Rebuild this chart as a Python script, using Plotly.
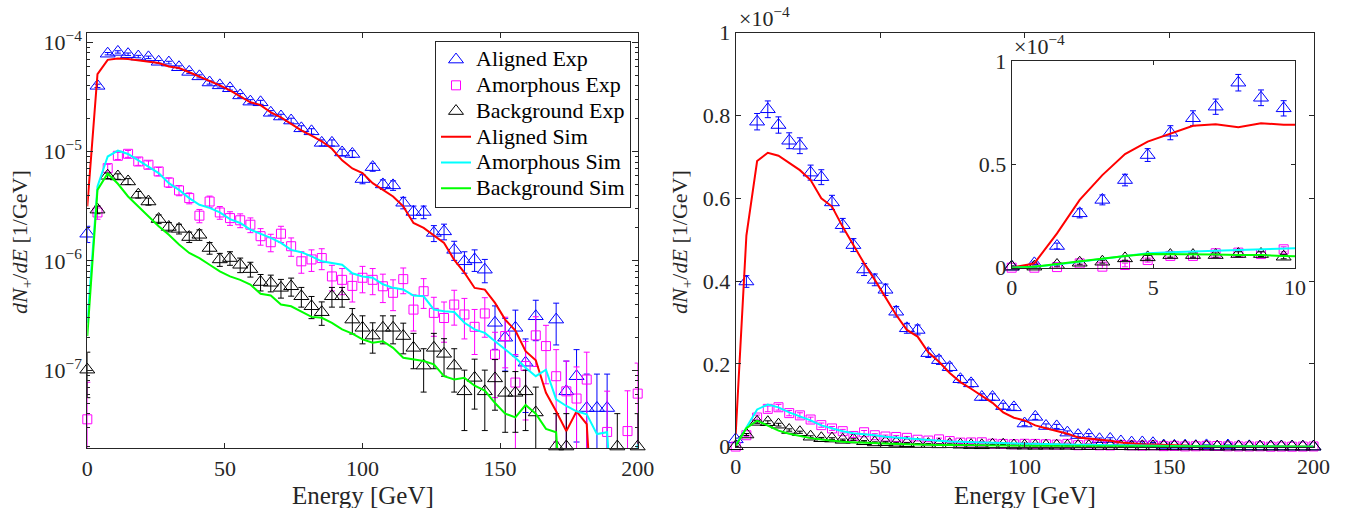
import plotly.graph_objects as go

FONT = "Liberation Serif, DejaVu Serif, serif"
AX = "#262626"
W, H = 1353, 508

# ---------------- data (main panels, absolute units 1/GeV) ----------------
energy = [0, 3.70, 7.41, 11.11, 14.81, 18.52, 22.22, 25.93, 29.63, 33.33,
          37.04, 40.74, 44.44, 48.15, 51.85, 55.56, 59.26, 62.96, 66.67, 70.37,
          74.07, 77.78, 81.48, 85.19, 88.89, 92.59, 96.30, 100.0, 103.70, 107.41,
          111.11, 114.81, 118.52, 122.22, 125.93, 129.63, 133.33, 137.04, 140.74, 144.44,
          148.15, 151.85, 155.56, 159.26, 162.96, 166.67, 170.37, 174.07, 177.78, 181.48,
          185.19, 188.89, 192.59, 196.30, 200.0]

aligned_exp = [1.77e-6, 3.99e-5, 7.85e-5, 8.15e-5, 7.77e-5, 7.39e-5, 7.27e-5, 6.62e-5, 6.51e-5, 5.90e-5,
               5.35e-5, 4.87e-5, 4.28e-5, 4.03e-5, 3.79e-5, 3.26e-5, 2.86e-5, 2.82e-5, 2.26e-5, 2.09e-5,
               1.92e-5, 1.63e-5, 1.53e-5, 1.20e-5, 1.20e-5, 9.8e-6, 9.5e-6, 5.6e-6, 7.2e-6, 5.0e-6,
               4.9e-6, 3.4e-6, 2.8e-6, 2.8e-6, 1.80e-6, 1.86e-6, 1.26e-6, 9.9e-7, 1.03e-6, 8.3e-7,
               2.71e-7, 1.98e-7, 2.44e-7, 1.17e-7, 3.11e-7, 0, 2.90e-7, 6.4e-8, 8.8e-8, 4.5e-8,
               4.5e-8, 4.5e-8, 0, 0, 0]
aligned_err = [3.0e-7, 1.41e-6, 1.98e-6, 2.02e-6, 1.97e-6, 1.92e-6, 1.91e-6, 1.82e-6, 1.80e-6, 1.72e-6,
               1.64e-6, 1.56e-6, 1.46e-6, 1.42e-6, 1.38e-6, 1.28e-6, 1.20e-6, 1.19e-6, 1.06e-6, 1.02e-6,
               9.8e-7, 9.0e-7, 8.7e-7, 7.7e-7, 7.7e-7, 7.0e-7, 6.9e-7, 5.3e-7, 6.0e-7, 5.0e-7,
               4.9e-7, 4.1e-7, 3.7e-7, 3.7e-7, 3.0e-7, 3.05e-7, 2.5e-7, 2.2e-7, 2.3e-7, 2.0e-7,
               1.16e-7, 1.0e-7, 1.1e-7, 7.6e-8, 1.25e-7, 0, 1.2e-7, 5.7e-8, 6.6e-8, 4.7e-8,
               4.7e-8, 4.7e-8, 0, 0, 0]

amorph_exp = [3.55e-8, 2.77e-6, 7.05e-6, 9.14e-6, 9.53e-6, 8.11e-6, 7.57e-6, 6.57e-6, 5.21e-6, 4.41e-6,
              3.75e-6, 2.59e-6, 3.49e-6, 2.77e-6, 2.46e-6, 2.35e-6, 2.14e-6, 1.68e-6, 1.48e-6, 1.77e-6,
              1.36e-6, 9.9e-7, 1.03e-6, 1.06e-6, 7.2e-7, 6.7e-7, 5.9e-7, 7.0e-7, 6.7e-7, 5.85e-7,
              5.1e-7, 6.8e-7, 3.58e-7, 5.27e-7, 3.34e-7, 3.0e-7, 3.98e-7, 3.23e-7, 2.49e-7, 3.30e-7,
              1.39e-7, 2.05e-7, 7.7e-8, 1.09e-7, 2.08e-7, 1.66e-7, 8.8e-8, 6.4e-8, 5.5e-8, 8.2e-8,
              0, 2.72e-8, 0, 2.77e-8, 6.1e-8]
amorph_err = [4.2e-8, 3.7e-7, 5.9e-7, 6.8e-7, 6.9e-7, 6.4e-7, 6.2e-7, 5.7e-7, 5.1e-7, 4.7e-7,
              4.3e-7, 3.6e-7, 4.2e-7, 3.7e-7, 3.5e-7, 3.4e-7, 3.3e-7, 2.9e-7, 2.7e-7, 3.0e-7,
              2.6e-7, 2.2e-7, 2.3e-7, 2.3e-7, 1.9e-7, 1.8e-7, 1.7e-7, 1.9e-7, 1.8e-7, 1.7e-7,
              1.6e-7, 1.8e-7, 1.3e-7, 1.6e-7, 1.3e-7, 1.2e-7, 1.4e-7, 1.3e-7, 1.1e-7, 1.3e-7,
              8.3e-8, 1.0e-7, 6.2e-8, 7.4e-8, 1.0e-7, 9.1e-8, 6.6e-8, 5.7e-8, 5.2e-8, 6.4e-8,
              0, 3.7e-8, 0, 3.7e-8, 5.5e-8]

back_exp = [1.01e-7, 2.94e-6, 6.0e-6, 5.91e-6, 5.32e-6, 4.03e-6, 3.49e-6, 2.41e-6, 2.04e-6, 1.96e-6,
            1.65e-6, 1.73e-6, 1.31e-6, 1.03e-6, 1.06e-6, 9.2e-7, 8.4e-7, 6.4e-7, 6.3e-7, 5.66e-7,
            5.85e-7, 4.74e-7, 3.84e-7, 3.39e-7, 4.74e-7, 4.74e-7, 2.90e-7, 2.44e-7, 2.07e-7, 2.44e-7,
            2.44e-7, 2.05e-7, 1.60e-7, 1.10e-7, 1.60e-7, 1.41e-7, 1.10e-7, 6.4e-8, 8.5e-8, 6.4e-8,
            8.4e-8, 6.2e-8, 6.2e-8, 6.4e-8, 4.1e-8, 0, 2.0e-8, 2.0e-8, 0, 0,
            0, 0, 2.0e-8, 0, 2.0e-8]
back_err = [4.5e-8, 2.4e-7, 3.5e-7, 3.4e-7, 3.3e-7, 2.8e-7, 2.6e-7, 2.2e-7, 2.0e-7, 2.0e-7,
            1.8e-7, 1.9e-7, 1.6e-7, 1.4e-7, 1.5e-7, 1.4e-7, 1.3e-7, 1.1e-7, 1.1e-7, 1.1e-7,
            1.1e-7, 9.7e-8, 8.8e-8, 8.2e-8, 9.7e-8, 9.7e-8, 7.6e-8, 7.0e-8, 6.4e-8, 7.0e-8,
            7.0e-8, 6.4e-8, 5.7e-8, 4.7e-8, 5.7e-8, 5.3e-8, 4.7e-8, 3.6e-8, 4.1e-8, 3.6e-8,
            4.1e-8, 3.5e-8, 3.5e-8, 3.6e-8, 2.9e-8, 0, 2.0e-8, 2.0e-8, 0, 0,
            0, 0, 2.0e-8, 0, 2.0e-8]

aligned_sim = [3.15e-6, 5.1e-5, 6.9e-5, 7.1e-5, 7.03e-5, 6.85e-5, 6.68e-5, 6.44e-5, 6.0e-5, 5.8e-5,
               5.31e-5, 4.87e-5, 4.43e-5, 4.03e-5, 3.62e-5, 3.18e-5, 2.82e-5, 2.66e-5, 2.28e-5, 2.05e-5,
               1.78e-5, 1.56e-5, 1.40e-5, 1.24e-5, 1.06e-5, 8.3e-6, 7.0e-6, 6.35e-6, 5.14e-6, 4.46e-6,
               3.88e-6, 3.15e-6, 2.22e-6, 2.0e-6, 1.70e-6, 1.46e-6, 1.02e-6, 7.8e-7, 5.65e-7, 5.46e-7,
               4.12e-7, 2.9e-7, 2.3e-7, 1.49e-7, 1.23e-7, 6.2e-8, 4.2e-8, 2.77e-8, 4.2e-8, 3.2e-8,
               1e-9, 0, 0, 0, 0]
amorph_sim = [2.71e-7, 4.8e-6, 9.0e-6, 1.02e-5, 9.5e-6, 8.28e-6, 7.3e-6, 6.35e-6, 5.14e-6, 4.46e-6,
              3.75e-6, 3.26e-6, 3.05e-6, 2.77e-6, 2.41e-6, 2.22e-6, 1.93e-6, 1.78e-6, 1.62e-6, 1.46e-6,
              1.26e-6, 1.2e-6, 1.1e-6, 9.9e-7, 9.6e-7, 9.2e-7, 7.7e-7, 7.2e-7, 7.0e-7, 6.1e-7,
              5.66e-7, 5.46e-7, 4.81e-7, 4.74e-7, 3.58e-7, 3.46e-7, 3.4e-7, 2.71e-7, 2.36e-7, 2.19e-7,
              1.84e-7, 1.55e-7, 1.3e-7, 1.05e-7, 8.8e-8, 1.01e-7, 5.4e-8, 4.7e-8, 4.2e-8, 3.94e-8,
              2.6e-8, 2.7e-8, 1e-9, 1e-9, 2.1e-8]
back_sim = [2.05e-7, 4.46e-6, 6.3e-6, 5.07e-6, 3.88e-6, 3.15e-6, 2.59e-6, 2.07e-6, 1.73e-6, 1.41e-6,
            1.18e-6, 1.06e-6, 9.2e-7, 8.0e-7, 7.2e-7, 6.7e-7, 6.07e-7, 5.0e-7, 4.82e-7, 3.98e-7,
            3.84e-7, 3.46e-7, 3.07e-7, 3.01e-7, 2.71e-7, 2.36e-7, 2.16e-7, 1.91e-7, 1.78e-7, 1.84e-7,
            1.60e-7, 1.30e-7, 1.25e-7, 1.21e-7, 1.13e-7, 8.8e-8, 8.2e-8, 8.5e-8, 7.2e-8, 6.5e-8,
            5.0e-8, 4.0e-8, 3.7e-8, 4.8e-8, 4.0e-8, 2.9e-8, 2.7e-8, 1e-9, 0, 0,
            0, 0, 0, 0, 0]

# ---------------- inset data (units of 1e-4 1/GeV) ----------------
inset_energy = [0, 0.8, 1.6, 2.4, 3.2, 4.0, 4.8, 5.6, 6.4, 7.2, 8.0, 8.8, 9.6, 10.4]
inset_aligned_exp = [0.005, 0.021, 0.105, 0.263, 0.328, 0.424, 0.545, 0.653, 0.723, 0.779, 0.895, 0.822, 0.771]
inset_aligned_err = [0.003, 0.006, 0.014, 0.022, 0.024, 0.028, 0.031, 0.034, 0.036, 0.037, 0.040, 0.038, 0.037]
inset_amorph_exp = [0.0, 0.0, 0.003, 0.021, 0.005, 0.013, 0.037, 0.057, 0.057, 0.070, 0.073, 0.066, 0.089]
inset_amorph_err = [0.003, 0.003, 0.005, 0.008, 0.008, 0.009, 0.010, 0.010, 0.010, 0.011, 0.011, 0.011, 0.012]
inset_back_exp = [0.005, 0.005, 0.013, 0.024, 0.029, 0.045, 0.050, 0.061, 0.061, 0.061, 0.066, 0.066, 0.053]
inset_back_err = [0.003, 0.003, 0.005, 0.007, 0.007, 0.009, 0.009, 0.010, 0.010, 0.010, 0.011, 0.011, 0.010]
inset_aligned_sim = [0.0, 0.021, 0.166, 0.328, 0.448, 0.550, 0.610, 0.650, 0.687, 0.694, 0.679, 0.699, 0.692, 0.692]
inset_amorph_sim = [0.0, 0.005, 0.016, 0.029, 0.045, 0.057, 0.070, 0.075, 0.077, 0.082, 0.086, 0.090, 0.094, 0.096]
inset_back_sim = [0.0, 0.005, 0.018, 0.032, 0.045, 0.057, 0.066, 0.066, 0.064, 0.064, 0.061, 0.061, 0.057, 0.054]

# tick labels
x_ticks = [0, 50, 100, 150, 200]
log_tickvals = [1e-7, 1e-6, 1e-5, 1e-4]
log_ticktext = ["10<sup>\u22127</sup>", "10<sup>\u22126</sup>", "10<sup>\u22125</sup>", "10<sup>\u22124</sup>"]
lin_tickvals = [0, 2e-5, 4e-5, 6e-5, 8e-5, 1e-4]
lin_ticktext = ["0", "0.2", "0.4", "0.6", "0.8", "1"]
inset_xticks = [0, 5, 10]
inset_ytickvals = [0, 0.5, 1]
inset_yticktext = ["0", "0.5", "1"]

names = ["Aligned Exp", "Amorphous Exp", "Background Exp", "Aligned Sim", "Amorphous Sim", "Background Sim"]
C_BLUE, C_MAG, C_BLK = "#0000FF", "#FF00FF", "#000000"
C_RED, C_CYAN, C_GRN = "#FF0000", "#00FFFF", "#00FF00"
TRI, SQ = 13, 9


def legend_label(n):
    return '<span style="font-size:22px">' + n + "</span>"


fig = go.Figure()


def add_exp(x, y, err, color, symbol, size, name, xa, ya, legend):
    fig.add_trace(go.Scatter(
        x=x, y=y, mode="markers", xaxis=xa, yaxis=ya, showlegend=False, hoverinfo="skip",
        marker=dict(size=1, color="rgba(0,0,0,0)"),
        error_y=dict(type="data", array=err, visible=True, color=color, thickness=1, width=3)))
    fig.add_trace(go.Scatter(
        x=x, y=y, mode="markers", xaxis=xa, yaxis=ya, name=legend_label(name), showlegend=legend,
        cliponaxis=False, legendrank=names.index(name) + 1,
        marker=dict(symbol=symbol, size=size, color=color, line=dict(color=color, width=1))))


def add_sim(x, y, color, name, xa, ya, legend):
    fig.add_trace(go.Scatter(
        x=x, y=y, mode="lines", xaxis=xa, yaxis=ya, name=legend_label(name), showlegend=legend,
        legendrank=names.index(name) + 1,
        line=dict(color=color, width=2)))


for xa, ya, leg in [("x", "y", True), ("x2", "y2", False)]:
    add_exp(energy, aligned_exp, aligned_err, C_BLUE, "triangle-up-open", TRI, names[0], xa, ya, leg)
    add_exp(energy, amorph_exp, amorph_err, C_MAG, "square-open", SQ, names[1], xa, ya, leg)
    add_exp(energy, back_exp, back_err, C_BLK, "triangle-up-open", TRI, names[2], xa, ya, leg)
    add_sim(energy, aligned_sim, C_RED, names[3], xa, ya, leg)
    add_sim(energy, amorph_sim, C_CYAN, names[4], xa, ya, leg)
    add_sim(energy, back_sim, C_GRN, names[5], xa, ya, leg)

ie13 = inset_energy[:13]
add_exp(ie13, inset_aligned_exp, inset_aligned_err, C_BLUE, "triangle-up-open", TRI, names[0], "x3", "y3", False)
add_exp(ie13, inset_amorph_exp, inset_amorph_err, C_MAG, "square-open", SQ, names[1], "x3", "y3", False)
add_exp(ie13, inset_back_exp, inset_back_err, C_BLK, "triangle-up-open", TRI, names[2], "x3", "y3", False)
add_sim(inset_energy, inset_aligned_sim, C_RED, names[3], "x3", "y3", False)
add_sim(inset_energy, inset_amorph_sim, C_CYAN, names[4], "x3", "y3", False)
add_sim(inset_energy, inset_back_sim, C_GRN, names[5], "x3", "y3", False)


def ax_style(ticklen=5, size=22):
    return dict(showline=True, linecolor=AX, linewidth=1, mirror="allticks", ticks="inside",
                ticklen=ticklen, tickwidth=1, tickcolor=AX, showgrid=False, zeroline=False,
                automargin=False, tickfont=dict(family=FONT, size=size, color=AX))


fig.update_layout(
    template="none",
    width=W, height=H, autosize=False,
    margin=dict(l=0, r=0, t=0, b=0, pad=0),
    paper_bgcolor="white", plot_bgcolor="white",
    font=dict(family=FONT, color=AX),
    xaxis=dict(domain=[87.3 / W, 637.7 / W], anchor="y", range=[0, 200],
               tickmode="array", tickvals=x_ticks, **ax_style()),
    yaxis=dict(domain=[1 - 448.3 / H, 1 - 32.7 / H], anchor="x", type="log", range=[-7.715, -3.913],
               tickmode="array", tickvals=log_tickvals, ticktext=log_ticktext,
               minor=dict(ticks="inside", ticklen=3, tickwidth=1, tickcolor=AX, dtick="D1", showgrid=False),
               **ax_style(ticklen=6)),
    xaxis2=dict(domain=[735.7 / W, 1313.5 / W], anchor="y2", range=[0, 200],
                tickmode="array", tickvals=x_ticks, **ax_style()),
    yaxis2=dict(domain=[1 - 446.7 / H, 1 - 32.7 / H], anchor="x2", range=[0, 1e-4],
                tickmode="array", tickvals=lin_tickvals, ticktext=lin_ticktext, **ax_style()),
    xaxis3=dict(domain=[1011.7 / W, 1295 / W], anchor="y3", range=[0, 10],
                tickmode="array", tickvals=inset_xticks, **ax_style(ticklen=4)),
    yaxis3=dict(domain=[1 - 267.7 / H, 1 - 61 / H], anchor="x3", range=[0, 1],
                tickmode="array", tickvals=inset_ytickvals, ticktext=inset_yticktext, **ax_style(ticklen=4)),
    legend=dict(x=435 / W, y=1 - 40.7 / H, xanchor="left", yanchor="top",
                bgcolor="white", bordercolor=AX, borderwidth=1,
                font=dict(family=FONT, size=17.5, color="#000000"),
                itemwidth=30, tracegroupgap=0, traceorder="normal"),
    showlegend=True,
)

ytitle = "<i>dN</i><sub>+</sub>/<i>dE</i> [1/GeV]"
ann = [
    dict(x=21 / W, y=1 - 242 / H, text=ytitle, textangle=-90, font=dict(size=22)),
    dict(x=681 / W, y=1 - 242 / H, text=ytitle, textangle=-90, font=dict(size=22)),
    dict(x=362.5 / W, y=1 - 495 / H, text="Energy [GeV]", font=dict(size=25)),
    dict(x=1024.6 / W, y=1 - 495 / H, text="Energy [GeV]", font=dict(size=25)),
    dict(x=737 / W, y=1 - 17 / H, text="\u00d710<sup>\u22124</sup>", xanchor="left", font=dict(size=22)),
    dict(x=1012 / W, y=1 - 45 / H, text="\u00d710<sup>\u22124</sup>", xanchor="left", font=dict(size=22)),
]
for a in ann:
    a.setdefault("xanchor", "center")
    a.update(xref="paper", yref="paper", yanchor="middle", showarrow=False)
    a["font"].update(family=FONT, color=AX)
fig.update_layout(annotations=ann)

fig.write_html("out.html", config={"displayModeBar": False},
               post_script="document.body.style.margin='0px';document.body.style.overflow='hidden';")
